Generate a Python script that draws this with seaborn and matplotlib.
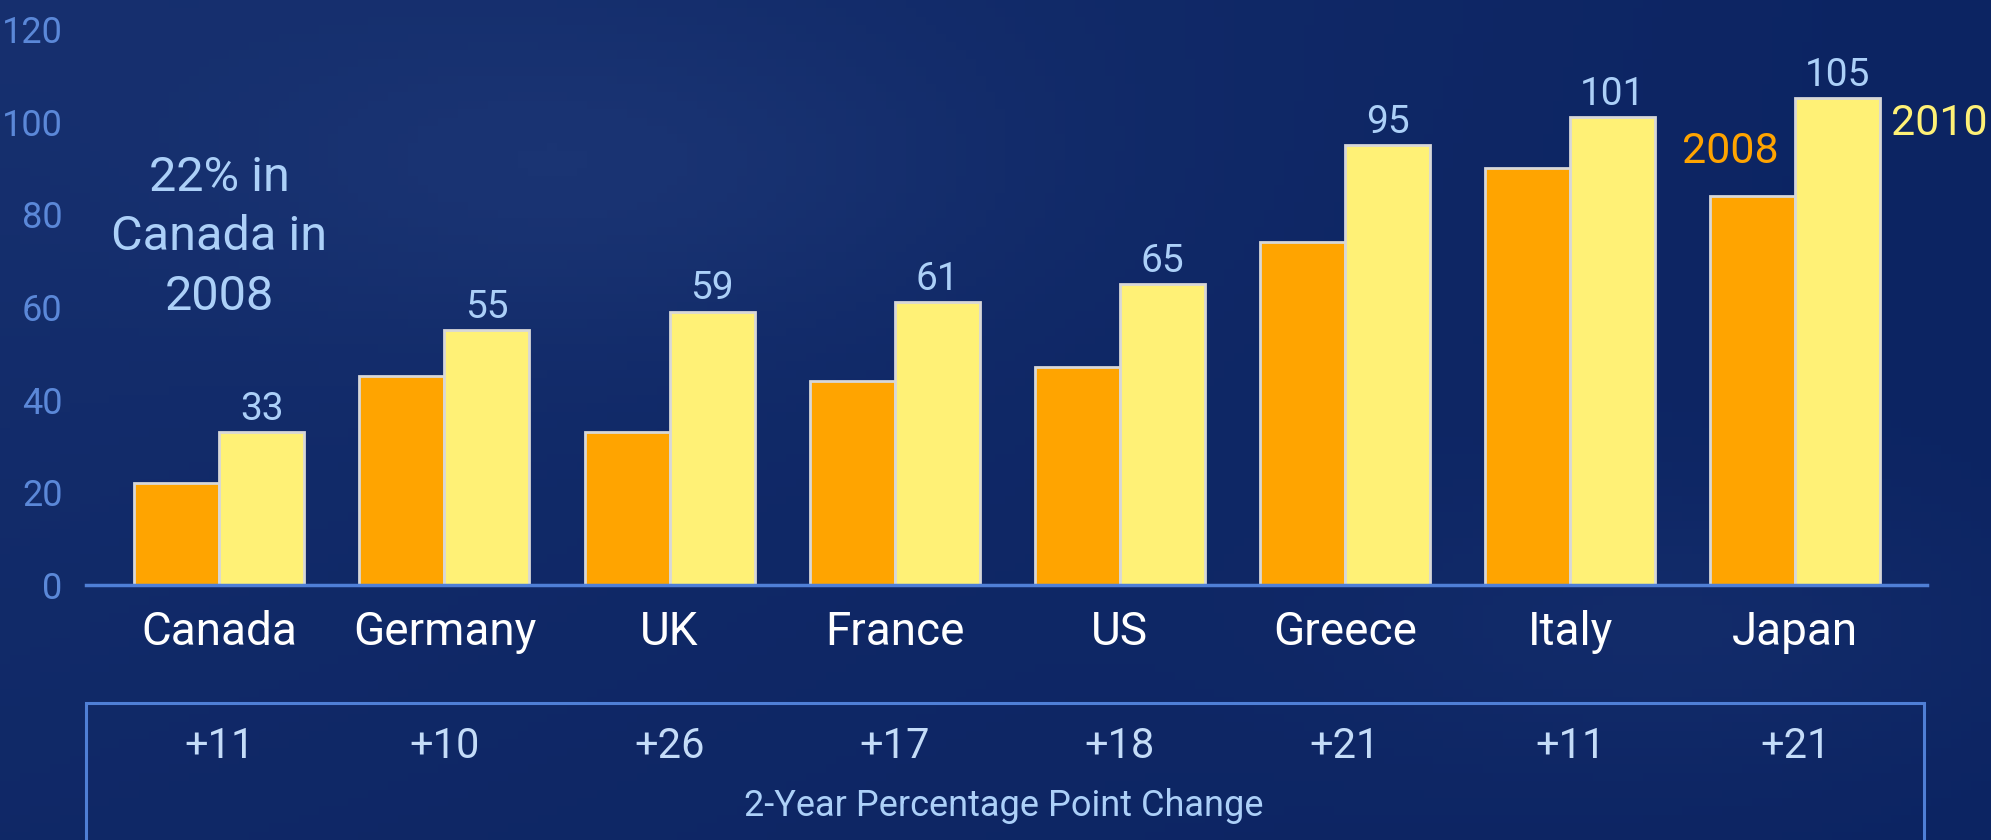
import numpy as np
import pandas as pd
import matplotlib
matplotlib.use("Agg")
import matplotlib.pyplot as plt
import matplotlib.transforms as mtransforms
from matplotlib.patches import Rectangle
from matplotlib import font_manager
import seaborn as sns

# ---- data ----
countries = ["Canada", "Germany", "UK", "France", "US", "Greece", "Italy", "Japan"]
values_2008 = [22, 45, 33, 44, 47, 74, 90, 84]
values_2010 = [33, 55, 59, 61, 65, 95, 101, 105]
changes = ["+11", "+10", "+26", "+17", "+18", "+21", "+11", "+21"]
years = ["2008", "2010"]
y_ticks = [0, 20, 40, 60, 80, 100, 120]
note_text = "22% in\nCanada in\n2008"
box_title = "2-Year Percentage Point Change"

df = pd.DataFrame({
    "country": countries * 2,
    "year": [years[0]] * len(countries) + [years[1]] * len(countries),
    "value": values_2008 + values_2010,
})

sns.set_theme(style="white")
names = {f.name for f in font_manager.fontManager.ttflist}
main_font = "Roboto" if "Roboto" in names else "Liberation Sans"
plt.rcParams["font.family"] = [main_font, "DejaVu Sans"]

ORANGE = "#FFA400"
YELLOW = "#FFF176"
BG = "#112a69"
TICK_BLUE = "#5b88d8"
LIGHT_BLUE = "#acd0f8"
LINE_BLUE = "#4f7fd6"

fig = plt.figure(figsize=(19.91, 8.40), dpi=100)
fig.patch.set_facecolor(BG)

# background gradient
bg_ax = fig.add_axes([0, 0, 1, 1], zorder=-10)
gx, gy = np.meshgrid(np.linspace(0, 1, 200), np.linspace(0, 1, 100))
grad = (0.45 * (1 - gx) * (1 - 0.6 * gy)
        + 0.35 * np.exp(-((gx - 0.3) ** 2 + (gy - 0.2) ** 2) / 0.04)
        + 0.25 * np.exp(-((gx - 0.85) ** 2 + (gy - 0.75) ** 2) / 0.03))
cmap = matplotlib.colors.LinearSegmentedColormap.from_list("bg", ["#0c2462", "#1a3473"])
bg_ax.imshow(grad, cmap=cmap, aspect="auto", extent=[0, 1, 0, 1], origin="upper")
bg_ax.axis("off")

ax = fig.add_axes([0.0432, 0.3036, 0.9248, 0.6619])
ax.set_facecolor("none")

sns.barplot(data=df, x="country", y="value", hue="year", hue_order=years,
            palette=[ORANGE, YELLOW], width=0.755, gap=0, ax=ax,
            edgecolor="#d8d8d8", linewidth=2, legend=False, saturation=1)

ax.set_xlim(-0.592, 7.586)
ax.set_ylim(0, 120)
ax.set_yticks(y_ticks)
ax.set_yticklabels([str(t) for t in y_ticks])
ax.set_xlabel("")
ax.set_ylabel("")
for s in ["top", "right", "left"]:
    ax.spines[s].set_visible(False)
ax.spines["bottom"].set_color(LINE_BLUE)
ax.spines["bottom"].set_linewidth(2.5)
ax.tick_params(axis="y", colors=TICK_BLUE, labelsize=26, length=0, pad=17)
ax.tick_params(axis="x", colors="white", labelsize=33, length=0, pad=18)
for lab in ax.get_yticklabels():
    lab.set_color(TICK_BLUE)
for lab in ax.get_xticklabels():
    lab.set_color("white")

# value labels on 2010 bars
ax.bar_label(ax.containers[1], labels=[str(v) for v in values_2010],
             padding=3, color=LIGHT_BLUE, fontsize=28, clip_on=False)

# annotations
ax.text(0, 75, note_text, ha="center", va="center", fontsize=35,
        color=LIGHT_BLUE, linespacing=1.38)
ax.text(6.71, 93.5, years[0], ha="center", va="center", fontsize=31, color=ORANGE)
ax.text(7.64, 99.5, years[1], ha="center", va="center", fontsize=31,
        color=YELLOW, clip_on=False)

# bottom box
fig.patches.append(Rectangle((0.0432, -0.02), 0.923, 0.183,
                             transform=fig.transFigure, fill=False,
                             edgecolor=LINE_BLUE, linewidth=2.2))
trans = mtransforms.blended_transform_factory(ax.transData, fig.transFigure)
for i, c in enumerate(changes):
    ax.text(i, 0.111, c, transform=trans, ha="center", va="center",
            fontsize=30, color="#c4dcf8", clip_on=False)
fig.text(0.504, 0.040, box_title, ha="center", va="center", fontsize=26,
         color=LIGHT_BLUE)

fig.savefig("out.png", dpi=100, facecolor=fig.get_facecolor())
